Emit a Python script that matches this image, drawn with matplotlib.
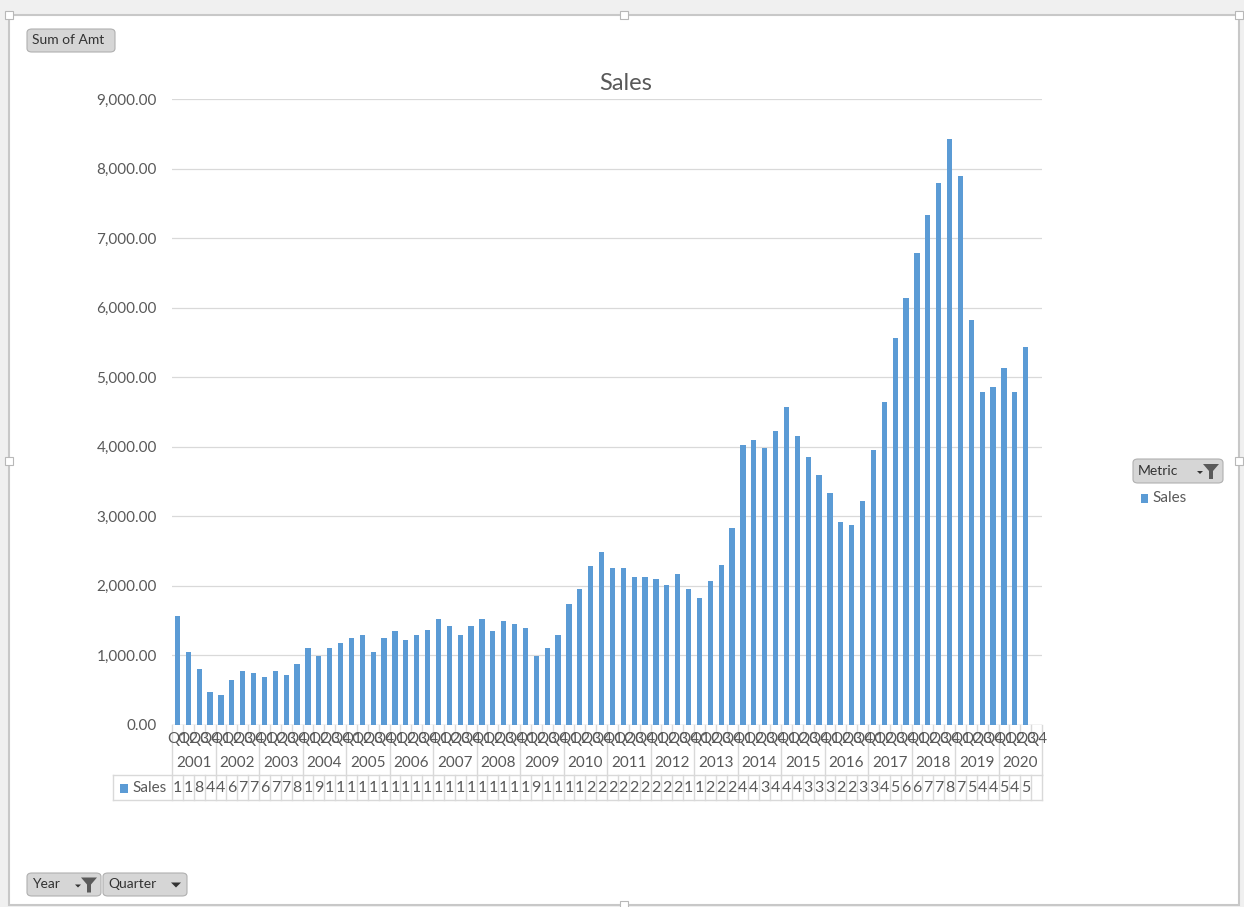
import matplotlib.pyplot as plt
import numpy as np
from matplotlib.patches import FancyBboxPatch, Polygon, Rectangle
from matplotlib.transforms import blended_transform_factory

plt.rcParams["font.family"] = ["Lato", "DejaVu Sans"]

YEARS = [str(y) for y in range(2001, 2021)]
QUARTERS = ["Q1", "Q2", "Q3", "Q4"]

# quarterly sales, 2001 Q1 .. 2020 Q3 (2020 Q4 has no value)
SALES = [
    1565, 1053, 809, 478,
    426, 651, 775, 742,
    689, 775, 722, 880,
    1110, 990, 1110, 1182,
    1249, 1301, 1053, 1249,
    1354, 1215, 1301, 1373,
    1531, 1426, 1287, 1426,
    1531, 1354, 1498, 1445,
    1392, 990, 1110, 1301,
    1742, 1957, 2287, 2483,
    2254, 2254, 2129, 2129,
    2096, 2010, 2167, 1957,
    1833, 2077, 2306, 2833,
    4024, 4096, 3976, 4220,
    4570, 4149, 3851, 3588,
    3339, 2912, 2879, 3215,
    3957, 4642, 5558, 6138,
    6790, 7337, 7792, 8425,
    7897, 5822, 4782, 4853,
    5136, 4782, 5429,
]

W, H = 1244, 907
BAR_COLOR = "#5b9bd5"
TEXT_COLOR = "#595959"
GRID_COLOR = "#d9d9d9"


def fx(px):
    return px / W


def fy(py):
    return 1 - py / H


def draw_button(fig, x0, y0, x1, y1, label, icon=None):
    box = FancyBboxPatch(
        (fx(x0), fy(y1)), fx(x1 - x0), (y1 - y0) / H,
        boxstyle="round,pad=0,rounding_size=0.004",
        transform=fig.transFigure, facecolor="#d6d6d6",
        edgecolor="#b0b0b0", linewidth=0.8,
    )
    fig.patches.append(box)
    fig.text(fx(x0 + 5), fy((y0 + y1) / 2), label, fontsize=10,
             color="#333333", va="center", ha="left")
    if icon == "funnel":
        cx = x1 - 12
        cy = (y0 + y1) / 2
        pts = [(cx - 8, cy - 7), (cx + 8, cy - 7), (cx + 2, cy),
               (cx + 2, cy + 8), (cx - 2, cy + 8), (cx - 2, cy)]
        fig.patches.append(Polygon([(fx(a), fy(b)) for a, b in pts],
                                   closed=True, transform=fig.transFigure,
                                   facecolor="#5a5a5a", edgecolor="none"))
        arr = [(cx - 14, cy), (cx - 8, cy), (cx - 11, cy + 3)]
        fig.patches.append(Polygon([(fx(a), fy(b)) for a, b in arr],
                                   closed=True, transform=fig.transFigure,
                                   facecolor="#333333", edgecolor="none"))
    elif icon == "arrow":
        cx = x1 - 11
        cy = (y0 + y1) / 2
        arr = [(cx - 5, cy - 2), (cx + 5, cy - 2), (cx, cy + 3)]
        fig.patches.append(Polygon([(fx(a), fy(b)) for a, b in arr],
                                   closed=True, transform=fig.transFigure,
                                   facecolor="#333333", edgecolor="none"))


fig = plt.figure(figsize=(W / 100, H / 100), dpi=100)
fig.patch.set_facecolor("#f0f0f0")

# chart area frame (behind everything)
fig.patches.append(Rectangle((fx(9), fy(905)), fx(1230), 890 / H,
                             transform=fig.transFigure, facecolor="white",
                             edgecolor="#c8c8c8", linewidth=1.5,
                             zorder=-10))
for hx, hy in [(9, 15), (624, 15), (1239, 15), (9, 461), (1239, 461),
               (624, 905)]:
    fig.patches.append(Rectangle((fx(hx - 4), fy(hy + 4)), fx(8), 8 / H,
                                 transform=fig.transFigure,
                                 facecolor="white", edgecolor="#b8b8b8",
                                 linewidth=0.8, zorder=5))

left, right, top, bottom = 172, 1042, 99, 725
ax = fig.add_axes([fx(left), fy(bottom), fx(right - left),
                   (bottom - top) / H])
ax.set_zorder(2)

n_cat = len(YEARS) * len(QUARTERS)
x = np.arange(len(SALES))
ax.bar(x, SALES, width=0.48, color=BAR_COLOR, zorder=3)
ax.set_xlim(-0.5, n_cat - 0.5)
ax.set_ylim(0, 9000)
ax.set_yticks(range(0, 9001, 1000))
ax.set_yticklabels([f"{v:,.2f}" for v in range(0, 9001, 1000)])
ax.tick_params(axis="y", length=0, labelsize=11, labelcolor=TEXT_COLOR,
               pad=11)
ax.set_xticks([])
ax.grid(axis="y", color=GRID_COLOR, linewidth=0.9, zorder=0)
for side in ["top", "right", "left", "bottom"]:
    ax.spines[side].set_visible(False)
ax.set_facecolor("none")
ax.axhline(0, color=GRID_COLOR, linewidth=1.0, zorder=2)

fig.text(fx(626), fy(83), "Sales", fontsize=17, color=TEXT_COLOR,
         ha="center", va="center")

# category table below the axis
trans = blended_transform_factory(ax.transData, fig.transFigure)
line_kw = dict(color=GRID_COLOR, linewidth=1.0, transform=trans,
               clip_on=False)

for i in range(n_cat):
    q = QUARTERS[i % 4]
    ax.text(i, fy(739), q, fontsize=11, color=TEXT_COLOR, ha="center",
            va="center", transform=trans, clip_on=False)

for b in range(n_cat + 1):
    xb = b - 0.5
    if b % 4 == 0:
        ax.plot([xb, xb], [fy(725), fy(775)], **line_kw)
    else:
        ax.plot([xb, xb], [fy(725), fy(735)], **line_kw)
    ax.plot([xb, xb], [fy(775), fy(800)], **line_kw)

for k, year in enumerate(YEARS):
    ax.text(k * 4 + 1.5, fy(763), year, fontsize=11, color=TEXT_COLOR,
            ha="center", va="center", transform=trans, clip_on=False)

for yb in [775, 800]:
    fig.add_artist(plt.Line2D([fx(113), fx(right)], [fy(yb), fy(yb)],
                              color=GRID_COLOR, linewidth=1.0))
fig.add_artist(plt.Line2D([fx(113), fx(113)], [fy(775), fy(800)],
                          color=GRID_COLOR, linewidth=1.0))

fig.patches.append(Rectangle((fx(120), fy(793)), fx(8), 9 / H,
                             transform=fig.transFigure,
                             facecolor=BAR_COLOR, edgecolor="none"))
fig.text(fx(132), fy(788), "Sales", fontsize=11, color=TEXT_COLOR,
         ha="left", va="center")
for i, v in enumerate(SALES):
    ax.text(i, fy(788), str(int(v))[0], fontsize=11.5, color=TEXT_COLOR,
            ha="center", va="center", transform=trans, clip_on=False)

# legend
fig.patches.append(Rectangle((fx(1141), fy(503)), fx(7), 9 / H,
                             transform=fig.transFigure,
                             facecolor=BAR_COLOR, edgecolor="none"))
fig.text(fx(1152), fy(498), "Sales", fontsize=11, color=TEXT_COLOR,
         ha="left", va="center")

# pivot field buttons
draw_button(fig, 27, 29, 115, 52, "Sum of Amt")
draw_button(fig, 1133, 459, 1223, 483, "Metric", icon="funnel")
draw_button(fig, 27, 873, 101, 896, "Year", icon="funnel")
draw_button(fig, 103, 873, 187, 896, "Quarter", icon="arrow")

fig.savefig("out.png", dpi=100, facecolor=fig.get_facecolor())
